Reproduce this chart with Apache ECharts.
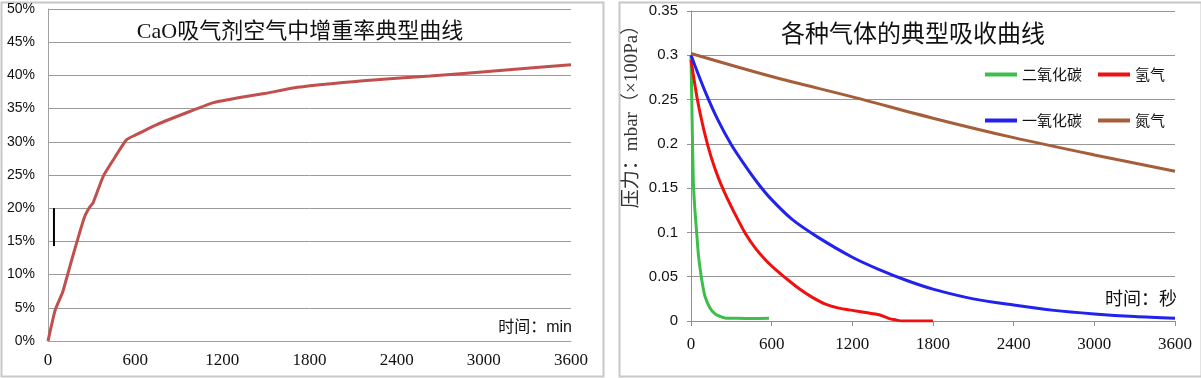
<!DOCTYPE html>
<html>
<head>
<meta charset="utf-8">
<script src="https://cdn.jsdelivr.net/npm/echarts@6/dist/echarts.min.js"></script>
<style>
html,body{margin:0;padding:0;background:#fff;}
#c{width:1201px;height:378px;}
</style>
</head>
<body>
<div id="c"></div>
<script>
// ---- Left chart: CaO getter weight gain (%) vs time (min)
const leftTitle = 'CaO吸气剂空气中增重率典型曲线';
const leftT = [0, 50, 100, 135, 180, 250, 285, 310, 380, 450, 540, 600, 750, 980, 1140, 1330, 1500, 1715, 2170, 2630, 3090, 3600];
const leftV = [0, 4.7, 7.3, 10, 13.5, 18.6, 20.1, 20.8, 24.8, 27.3, 30.3, 31.0, 32.6, 34.6, 35.9, 36.7, 37.3, 38.2, 39.2, 39.9, 40.7, 41.6];
const markT = [41, 41];
const markV = [20, 14.3];
const leftXTicks = [0, 600, 1200, 1800, 2400, 3000, 3600];
const leftYTicks = [0, 5, 10, 15, 20, 25, 30, 35, 40, 45, 50];
const leftXName = '时间：min';

// ---- Right chart: gas absorption curves, pressure vs time (s)
const rightTitle = '各种气体的典型吸收曲线';
const rightYName = '压力：mbar（×100Pa）';
const rightXName = '时间：秒';
const seriesNames = ['二氧化碳', '氢气', '一氧化碳', '氮气'];
const co2T = [0, 8, 17, 27, 42, 55, 67, 85, 104, 140, 179, 220, 253, 350, 450, 580];
const co2V = [0.30, 0.23, 0.16, 0.13, 0.10, 0.075, 0.06, 0.042, 0.028, 0.015, 0.008, 0.005, 0.0035, 0.003, 0.0028, 0.003];
const h2T = [0, 50, 100, 150, 200, 250, 320, 400, 480, 560, 630, 700, 800, 900, 1000, 1100, 1200, 1300, 1400, 1470, 1530, 1570, 1800];
const h2V = [0.295, 0.248, 0.213, 0.185, 0.163, 0.145, 0.123, 0.1, 0.082, 0.068, 0.058, 0.049, 0.037, 0.027, 0.019, 0.0145, 0.012, 0.0095, 0.007, 0.003, 0.001, 0.0, 0.0];
const coT = [0, 100, 200, 300, 400, 500, 600, 750, 940, 1200, 1400, 1600, 1800, 2100, 2400, 2700, 3000, 3300, 3600];
const coV = [0.3, 0.261, 0.227, 0.199, 0.176, 0.155, 0.137, 0.115, 0.095, 0.072, 0.058, 0.046, 0.036, 0.025, 0.018, 0.012, 0.008, 0.005, 0.003];
const n2T = [0, 600, 1200, 1800, 2400, 3000, 3600];
const n2V = [0.302, 0.276, 0.253, 0.229, 0.207, 0.1875, 0.169];
const rightXTicks = [0, 600, 1200, 1800, 2400, 3000, 3600];
const rightYTicks = [0, 0.05, 0.1, 0.15, 0.2, 0.25, 0.3, 0.35];

const zip = (a, b) => a.map((v, i) => [v, b[i]]);
const serif = '"Liberation Serif", "Noto Sans CJK SC", serif';
const sans = '"Liberation Sans", "Noto Sans CJK SC", sans-serif';
const colors = ['#3DBE4A', '#F01010', '#2222EE', '#A65E3A'];

const chart = echarts.init(document.getElementById('c'), null, {renderer: 'canvas'});
const rightLine = (i, t, v, z) => ({
  name: seriesNames[i], type: 'line', xAxisIndex: 1, yAxisIndex: 1, data: zip(t, v), showSymbol: false,
  smooth: 0.3,
  lineStyle: {color: colors[i], width: 3}, itemStyle: {color: colors[i]}, z: z
});
const option = {
  animation: false,
  backgroundColor: '#fff',
  grid: [
    {left: 48, top: 9, width: 523, height: 332, containLabel: false},
    {left: 691, top: 11, width: 484, height: 310, containLabel: false}
  ],
  xAxis: [
    {
      type: 'value', gridIndex: 0, min: leftXTicks[0], max: leftXTicks[leftXTicks.length - 1], interval: 600,
      axisLine: {show: true, lineStyle: {color: '#A0A0A0', width: 1}},
      axisTick: {show: false},
      axisLabel: {margin: 11, fontFamily: serif, fontSize: 17, color: '#111', formatter: v => String(v)},
      splitLine: {show: false}
    },
    {
      type: 'value', gridIndex: 1, min: rightXTicks[0], max: rightXTicks[rightXTicks.length - 1], interval: 600,
      axisLine: {show: true, lineStyle: {color: '#909090', width: 1}},
      axisTick: {show: true, length: 5, lineStyle: {color: '#909090'}},
      axisLabel: {margin: 15, fontFamily: serif, fontSize: 17, color: '#111', formatter: v => String(v)},
      splitLine: {show: false}
    }
  ],
  yAxis: [
    {
      type: 'value', gridIndex: 0, min: leftYTicks[0], max: leftYTicks[leftYTicks.length - 1], interval: 5,
      axisLine: {show: true, lineStyle: {color: '#A0A0A0', width: 1}},
      axisTick: {show: false},
      axisLabel: {margin: 13, fontFamily: sans, fontSize: 14, color: '#111', formatter: '{value}%'},
      splitLine: {show: true, lineStyle: {color: '#9A9A9A', width: 1}}
    },
    {
      type: 'value', gridIndex: 1, min: rightYTicks[0], max: rightYTicks[rightYTicks.length - 1], interval: 0.05,
      axisLine: {show: true, lineStyle: {color: '#909090', width: 1}},
      axisTick: {show: true, length: 4, inside: false, lineStyle: {color: '#909090'}},
      axisLabel: {margin: 13, fontFamily: sans, fontSize: 15, color: '#111',
        formatter: v => (Math.round(v * 100) / 100).toString()},
      splitLine: {show: true, lineStyle: {color: '#969696', width: 1}}
    }
  ],
  legend: [
    {
      data: [seriesNames[0], seriesNames[1]], left: 985, top: 67, padding: 0, itemGap: 16,
      itemWidth: 32, itemHeight: 4, icon: 'rect', itemStyle: {borderWidth: 0},
      textStyle: {fontFamily: '"Noto Sans CJK SC", sans-serif', fontSize: 15, color: '#111'}
    },
    {
      data: [seriesNames[2], seriesNames[3]], left: 985, top: 113, padding: 0, itemGap: 16,
      itemWidth: 32, itemHeight: 4, icon: 'rect', itemStyle: {borderWidth: 0},
      textStyle: {fontFamily: '"Noto Sans CJK SC", sans-serif', fontSize: 15, color: '#111'}
    }
  ],
  series: [
    {
      type: 'line', xAxisIndex: 0, yAxisIndex: 0, data: zip(leftT, leftV), showSymbol: false,
      smooth: 0.15,
      lineStyle: {color: '#C0504D', width: 3}, itemStyle: {color: '#C0504D'}, z: 3
    },
    {
      type: 'line', xAxisIndex: 0, yAxisIndex: 0, data: zip(markT, markV), showSymbol: false,
      lineStyle: {color: '#000', width: 2}, z: 4
    },
    rightLine(0, co2T, co2V, 3),
    rightLine(1, h2T, h2V, 4),
    rightLine(2, coT, coV, 5),
    rightLine(3, n2T, n2V, 6)
  ],
  graphic: [
    {type: 'rect', shape: {x: 1.5, y: 2.5, width: 602, height: 374}, style: {fill: 'none', stroke: '#C8C8C8', lineWidth: 2}, silent: true, z: 0},
    {type: 'rect', shape: {x: 619.5, y: 2.5, width: 582, height: 374}, style: {fill: 'none', stroke: '#C8C8C8', lineWidth: 2}, silent: true, z: 0},
    {type: 'text', x: 300, y: 32, style: {text: leftTitle, fontFamily: serif, fontSize: 22, fill: '#111', textAlign: 'center', textVerticalAlign: 'middle'}, z: 10},
    {type: 'text', x: 913, y: 36, style: {text: rightTitle, fontFamily: serif, fontSize: 24, fill: '#111', textAlign: 'center', textVerticalAlign: 'middle'}, z: 10},
    {type: 'text', x: 572, y: 328, style: {text: leftXName, fontFamily: sans, fontSize: 16, fill: '#111', textAlign: 'right', textVerticalAlign: 'middle'}, z: 10},
    {type: 'text', x: 1177, y: 300, style: {text: rightXName, fontFamily: serif, fontSize: 18, fill: '#111', textAlign: 'right', textVerticalAlign: 'middle'}, z: 10},
    {type: 'text', x: 632, y: 112, rotation: Math.PI / 2, style: {text: rightYName, fontFamily: serif, fontSize: 19, fill: '#333', textAlign: 'center', textVerticalAlign: 'middle'}, z: 10}
  ]
};
chart.setOption(option);
</script>
</body>
</html>
